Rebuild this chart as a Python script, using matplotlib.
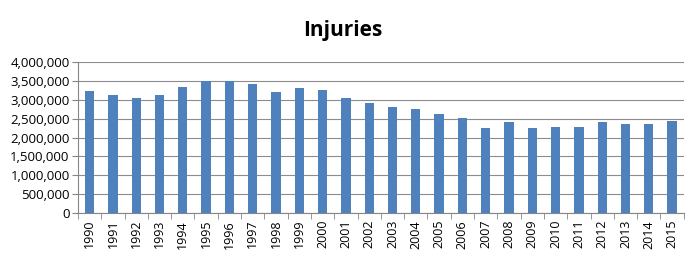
import matplotlib.pyplot as plt
import numpy as np
from matplotlib.ticker import FuncFormatter, FixedLocator

years = [str(y) for y in range(1990, 2016)]
injuries = [3240000, 3115000, 3050000, 3130000, 3340000, 3500000, 3500000, 3410000,
            3200000, 3310000, 3250000, 3060000, 2910000, 2805000, 2760000, 2620000,
            2520000, 2260000, 2420000, 2260000, 2270000, 2270000, 2410000, 2360000,
            2370000, 2450000]

plt.rcParams['font.family'] = ['Open Sans', 'DejaVu Sans']

fig = plt.figure(figsize=(6.9, 2.61), dpi=100)
ax = fig.add_axes([0.113, 0.184, 0.878, 0.578])

x = np.arange(len(years))
ax.bar(x, injuries, width=0.4, color='#4F81BD', zorder=3)

ax.set_xlim(-0.5, len(years) - 0.5)
ax.set_ylim(0, 4000000)
ax.set_yticks(np.arange(0, 4000001, 500000))
ax.yaxis.set_major_formatter(FuncFormatter(lambda v, p: f"{int(v):,}"))
ax.grid(axis='y', color='#8c8c8c', linewidth=0.8, zorder=0)

ax.set_xticks(x)
ax.set_xticklabels(years, rotation=90, fontsize=9)
ax.xaxis.set_minor_locator(FixedLocator(np.arange(-0.5, len(years), 1)))
ax.tick_params(axis='x', which='major', length=0, pad=5)
ax.tick_params(axis='x', which='minor', length=4, color='#868686')
ax.tick_params(axis='y', labelsize=9.5, length=4, color='#868686', pad=2)

for s in ['top', 'right']:
    ax.spines[s].set_visible(False)
ax.spines['left'].set_color('#868686')
ax.spines['bottom'].set_color('#868686')

fig.suptitle('Injuries', x=0.497, y=0.922, fontsize=15, fontweight='bold')

fig.savefig('out.png', dpi=100)
